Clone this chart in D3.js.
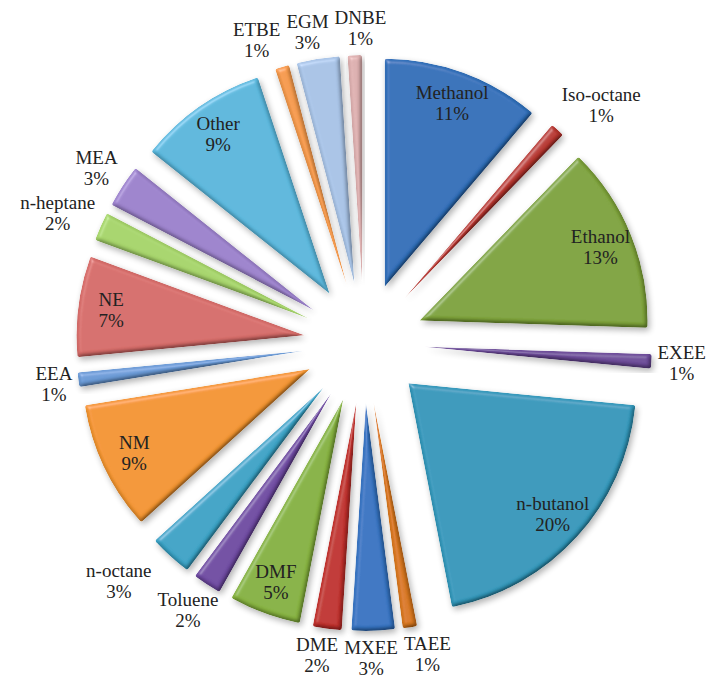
<!DOCTYPE html>
<html>
<head>
<meta charset="utf-8">
<script src="https://cdn.jsdelivr.net/npm/d3@7"></script>
<style>
  body { margin: 0; background: #fff; }
  text.lbl { font-family: 'Liberation Serif', 'Times New Roman', Times, 'DejaVu Serif', serif; }
</style>
</head>
<body>
<div id="chart"></div>
<script>
// fuel share, clockwise from 12 o'clock
var names = ['Methanol', 'Iso-octane', 'Ethanol', 'EXEE', 'n-butanol', 'TAEE', 'MXEE', 'DME', 'DMF', 'Toluene',
  'n-octane', 'NM', 'EEA', 'NE', 'n-heptane', 'MEA', 'Other', 'ETBE', 'EGM', 'DNBE'];
var shares = [11, 1, 13, 1, 20, 1, 3, 2, 5, 2, 3, 9, 1, 7, 2, 3, 9, 1, 3, 1];
var colors = ['#2f6fb9', '#b8362f', '#7ea33a', '#6c4a98', '#3398bb', '#d9781f', '#3674c2', '#c0302c', '#86b23f', '#6f4aa2',
  '#3aa3c6', '#f39530', '#6a9ad6', '#d66c69', '#a6d46a', '#9c82cc', '#5ab7dc', '#f59a4c', '#a8c3e6', '#dcafaf'];

var width = 716, height = 679;
var cx = 364, cy = 343;
var R = 228, explode = 60;
var FS = 19, LH = 21;

var svg = d3.select('#chart').append('svg')
  .attr('width', width)
  .attr('height', height);

// bevel: darken edges facing away, small highlight, soft shadow
var defs = svg.append('defs');
var f = defs.append('filter').attr('id', 'bevel')
  .attr('x', '-20%').attr('y', '-20%').attr('width', '140%').attr('height', '140%');
f.append('feGaussianBlur').attr('in', 'SourceAlpha').attr('stdDeviation', 2.2).attr('result', 'blur');
var diff = f.append('feDiffuseLighting').attr('in', 'blur')
  .attr('surfaceScale', 3).attr('diffuseConstant', 1.12)
  .attr('lighting-color', '#ffffff').attr('result', 'diff');
diff.append('feDistantLight').attr('azimuth', 235).attr('elevation', 62);
f.append('feComposite').attr('in', 'SourceGraphic').attr('in2', 'diff').attr('operator', 'arithmetic')
  .attr('k1', 1).attr('k2', 0).attr('k3', 0).attr('k4', 0).attr('result', 'shaded');
var spec = f.append('feSpecularLighting').attr('in', 'blur')
  .attr('surfaceScale', 3).attr('specularConstant', 0.35).attr('specularExponent', 25)
  .attr('lighting-color', '#ffffff').attr('result', 'spec');
spec.append('feDistantLight').attr('azimuth', 235).attr('elevation', 40);
f.append('feComposite').attr('in', 'spec').attr('in2', 'SourceAlpha').attr('operator', 'in').attr('result', 'specIn');
f.append('feComposite').attr('in', 'shaded').attr('in2', 'specIn').attr('operator', 'arithmetic')
  .attr('k1', 0).attr('k2', 1).attr('k3', 0.6).attr('k4', 0).attr('result', 'lit');
f.append('feComposite').attr('in', 'lit').attr('in2', 'SourceAlpha').attr('operator', 'in').attr('result', 'litIn');
f.append('feGaussianBlur').attr('in', 'SourceAlpha').attr('stdDeviation', 3).attr('result', 'sh');
f.append('feOffset').attr('in', 'sh').attr('dx', 2).attr('dy', 3).attr('result', 'sho');
f.append('feComponentTransfer').attr('in', 'sho').attr('result', 'shadow')
  .append('feFuncA').attr('type', 'linear').attr('slope', 0.3);
var merge = f.append('feMerge');
merge.append('feMergeNode').attr('in', 'shadow');
merge.append('feMergeNode').attr('in', 'litIn');

var data = names.map((n, i) => ({ name: n, value: shares[i], color: colors[i] }));

var pie = d3.pie().sort(null).value((d) => d.value);
var arcs = pie(data);

var arc = d3.arc().innerRadius(0).outerRadius(R).cornerRadius(2);

function mid(a) {
  return (a.startAngle + a.endAngle) / 2;
}
function clamp(v, lo, hi) {
  return Math.max(lo, Math.min(hi, v));
}

var g = svg.append('g').attr('transform', `translate(${cx},${cy})`);

g.selectAll('path.slice')
  .data(arcs)
  .enter()
  .append('path')
  .attr('class', 'slice')
  .attr('d', arc)
  .attr('fill', (d) => d.data.color)
  .attr('filter', 'url(#bevel)')
  .attr('transform', (d) => {
    var m = mid(d);
    return `translate(${explode * Math.sin(m)},${-explode * Math.cos(m)})`;
  });

var labels = g.selectAll('text.lbl')
  .data(arcs)
  .enter()
  .append('text')
  .attr('class', 'lbl')
  .attr('text-anchor', 'middle')
  .style('font-size', FS + 'px')
  .attr('fill', '#222');

labels.append('tspan').attr('class', 'l1').attr('x', 0).text((d) => d.data.name);
labels.append('tspan').attr('class', 'l2').attr('x', 0).text((d) => d.data.value + '%');

// measure, then place: big slices inside, small ones just outside the tip
labels.each(function (d) {
  var t = d3.select(this);
  d.w = Math.max(t.select('.l1').node().getComputedTextLength(), t.select('.l2').node().getComputedTextLength());
  d.h = LH * 2;
  var m = mid(d);
  var s = Math.sin(m), c = -Math.cos(m);
  if (d.data.value >= 5) {
    d.lx = 255 * s;
    d.ly = 255 * c;
  } else {
    var r0 = R + explode + 6;
    d.lx = r0 * s + (d.w / 2) * clamp(2.5 * s, -1, 1);
    d.ly = r0 * c + (d.h / 2) * clamp(1.3 * c, -1, 1);
  }
});

// push apart outside labels that run into each other
var outer = arcs.filter((d) => d.data.value < 5);
for (var k = 0; k < 60; k++) {
  for (var i = 0; i < outer.length; i++) {
    for (var j = i + 1; j < outer.length; j++) {
      var a = outer[i], b = outer[j];
      var ox = (a.w + b.w) / 2 + 6 - Math.abs(b.lx - a.lx);
      var oy = (a.h + b.h) / 2 - 2 - Math.abs(b.ly - a.ly);
      if (ox > 0 && oy > 0) {
        var side = Math.abs(Math.sin(mid(a))) > 0.7 && Math.abs(Math.sin(mid(b))) > 0.7;
        if (side) {
          var sy = b.ly >= a.ly ? 1 : -1;
          a.ly -= sy * oy / 2;
          b.ly += sy * oy / 2;
        } else {
          var sx = b.lx >= a.lx ? 1 : -1;
          a.lx -= sx * ox / 2;
          b.lx += sx * ox / 2;
        }
      }
    }
  }
}

labels.each(function (d) {
  d.lx = clamp(d.lx, -cx + d.w / 2 + 2, width - cx - d.w / 2 + 4);
  d.ly = clamp(d.ly, -cy + d.h / 2, height - cy - d.h / 2 + 6);
  var t = d3.select(this).attr('transform', `translate(${d.lx},${d.ly})`);
  t.select('.l1').attr('y', -LH / 2 + FS * 0.33);
  t.select('.l2').attr('y', LH / 2 + FS * 0.33);
});
</script>
</body>
</html>
